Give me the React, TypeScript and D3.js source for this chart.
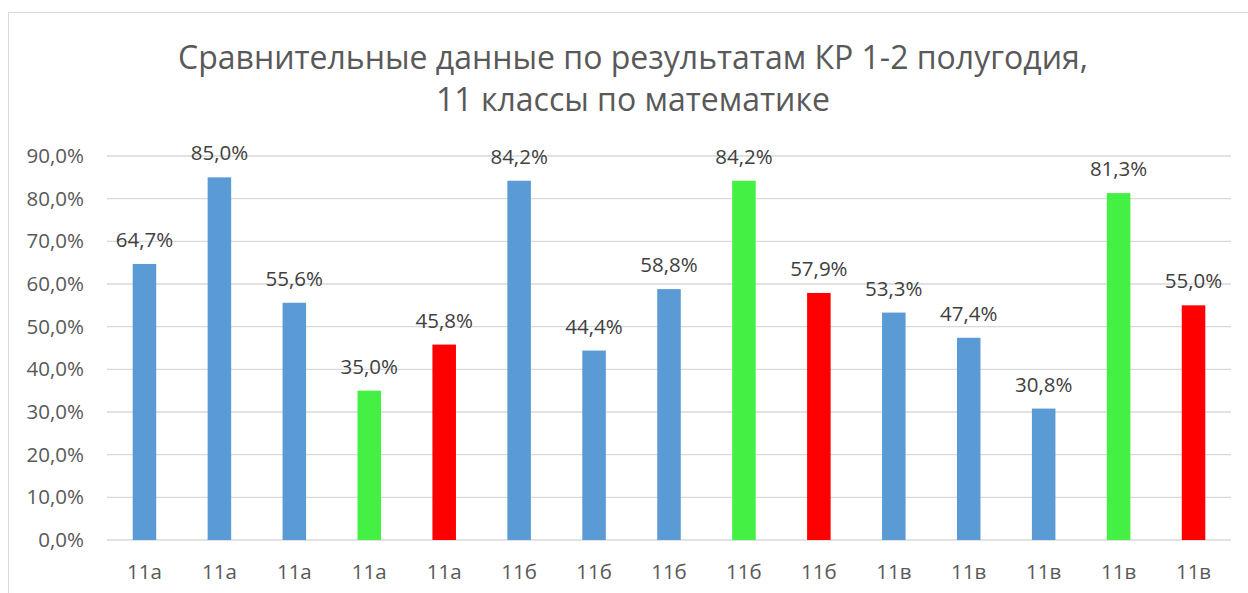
import { useEffect, useRef } from "react";
import * as d3 from "d3";

const categories = ["11а", "11а", "11а", "11а", "11а", "11б", "11б", "11б", "11б", "11б", "11в", "11в", "11в", "11в", "11в"];
const values = [64.7, 85.0, 55.6, 35.0, 45.8, 84.2, 44.4, 58.8, 84.2, 57.9, 53.3, 47.4, 30.8, 81.3, 55.0];
const barKinds = ["b", "b", "b", "g", "r", "b", "b", "b", "g", "r", "b", "b", "b", "g", "r"];
const yTicks = [0, 10, 20, 30, 40, 50, 60, 70, 80, 90];
const titleLines = ["Сравнительные данные по результатам КР 1-2 полугодия,", "11 классы по математике"];

const colors: Record<string, string> = { b: "#5B9BD5", g: "#44F044", r: "#FF0000" };

export default function App() {
  const ref = useRef<SVGSVGElement>(null);

  useEffect(() => {
    const svg = d3.select(ref.current);
    svg.selectAll("*").remove();

    const width = 1248, height = 593;
    const margin = { top: 156, right: 17, bottom: 53, left: 107 };
    const innerW = width - margin.left - margin.right;
    const font = "'Open Sans', sans-serif";
    const textColor = "#595959";

    // chart frame
    svg.append("rect")
      .attr("x", 8.5).attr("y", 12.5)
      .attr("width", 1240).attr("height", 600)
      .attr("fill", "#fff").attr("stroke", "#d9d9d9");

    svg.selectAll(".title")
      .data(titleLines)
      .enter().append("text")
      .attr("x", 633)
      .attr("y", (_d, i) => 69 + i * 42)
      .attr("text-anchor", "middle")
      .attr("font-family", font)
      .attr("font-size", 32)
      .attr("fill", textColor)
      .text(d => d);

    const x = d3.scaleBand<number>()
      .domain(d3.range(values.length))
      .range([margin.left, margin.left + innerW])
      .paddingInner(0.686)
      .paddingOuter(0.343);
    const y = d3.scaleLinear().domain([0, 90]).range([540, 156]);

    // gridlines
    svg.append("g").selectAll("line")
      .data(yTicks)
      .enter().append("line")
      .attr("x1", margin.left).attr("x2", margin.left + innerW)
      .attr("y1", d => y(d)).attr("y2", d => y(d))
      .attr("stroke", "#d9d9d9").attr("stroke-width", 1.3);

    // y tick labels
    svg.append("g").selectAll("text")
      .data(yTicks)
      .enter().append("text")
      .attr("x", 84)
      .attr("y", d => y(d) + 7)
      .attr("text-anchor", "end")
      .attr("font-family", font)
      .attr("font-size", 20.5)
      .attr("fill", textColor)
      .text(d => d.toFixed(1).replace(".", ",") + "%");

    // bars
    svg.append("g").selectAll("rect")
      .data(values)
      .enter().append("rect")
      .attr("x", (_d, i) => x(i)!)
      .attr("width", x.bandwidth())
      .attr("y", d => y(d))
      .attr("height", d => y(0) - y(d))
      .attr("fill", (_d, i) => colors[barKinds[i]]);

    // value labels
    svg.append("g").selectAll("text")
      .data(values)
      .enter().append("text")
      .attr("x", (_d, i) => x(i)! + x.bandwidth() / 2)
      .attr("y", d => y(d) - 17)
      .attr("text-anchor", "middle")
      .attr("font-family", font)
      .attr("font-size", 20.5)
      .attr("fill", "#404040")
      .text(d => d.toFixed(1).replace(".", ",") + "%");

    // category labels
    svg.append("g").selectAll("text")
      .data(categories)
      .enter().append("text")
      .attr("x", (_d, i) => x(i)! + x.bandwidth() / 2)
      .attr("y", 579)
      .attr("text-anchor", "middle")
      .attr("font-family", font)
      .attr("font-size", 20.5)
      .attr("fill", textColor)
      .text(d => d);
  }, []);

  return (
    <svg ref={ref} width={1248} height={593}
      style={{ position: "absolute", left: 0, top: 0, display: "block" }} />
  );
}
